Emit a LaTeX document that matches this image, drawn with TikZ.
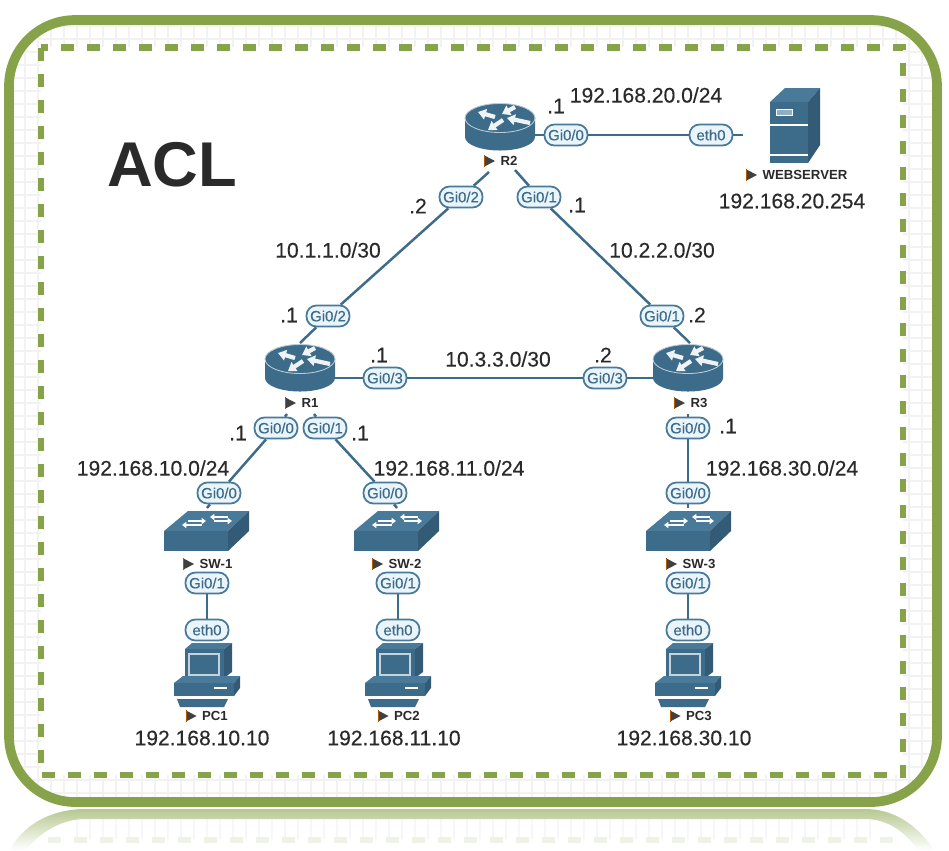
\documentclass[tikz,border=0pt]{standalone}
\usepackage{fontspec}
\setmainfont{Liberation Sans}
\newfontfamily\netfont[FakeBold=0.25]{Liberation Sans}
\usetikzlibrary{shapes,arrows.meta}
\definecolor{framegreen}{HTML}{87A349}
\definecolor{netblue}{HTML}{3D6B8A}
\definecolor{nettop}{HTML}{4A7A9A}
\definecolor{portfill}{HTML}{EAF4FB}
\definecolor{textdark}{HTML}{2A2A2A}
\tikzset{
  netwire/.style={draw=netblue, line width=1.4pt},
  netport/.style={draw=nettop, fill=portfill, rounded corners=5.6pt, line width=1pt, minimum width=0.86cm, minimum height=0.42cm, inner sep=0pt, text=netblue, font=\netfont\fontsize{8.5}{10}\selectfont},
  netdevice/.style={inner sep=0pt, minimum width=#1},
  netlabel/.style={inner sep=0pt, text=textdark, font=\netfont\fontsize{12}{14}\selectfont},
  netname/.style={inner sep=0pt, text=textdark, font=\bfseries\fontsize{7.5}{9}\selectfont},
  gridline/.style={draw=black!5, line width=0.6pt},
  routerarrow/.style={draw=white!92!netblue, line width=2.4pt, -{Triangle[length=4.5pt,width=6pt]}}
}
\newcommand{\netrouter}[2] {\node at (#1) (#2) [netdevice=1.4cm, minimum height=0.9cm] {};
  \begin{scope}[shift={(#1)}]
  \fill [netblue] (-35,-10) -- (-35,9) arc[start angle=180, end angle=360, x radius=35, y radius=-13.5] -- (35,-10) -- cycle;
  \draw [fill=netblue, draw=white!65!netblue, line width=0.5pt] (0,-10) ellipse [x radius=35, y radius=14.5];
  \draw [routerarrow] (-5,-11) -- (-22,-16);
  \draw [routerarrow] (3,-8) -- (-12,2);
  \draw [routerarrow] (15,-21) -- (2,-14);
  \draw [routerarrow] (30,-5) -- (7,-10);
  \end{scope}}
\newcommand{\netswitch}[2] {\node at (#1) (#2) [netdevice=1.7cm, minimum height=0.8cm] {};
  \begin{scope}[shift={(#1)}]
  \fill [nettop] (-42,1) -- (-18,-19) -- (43,-19) -- (22,1) -- cycle;
  \fill [netblue] (-42,1) rectangle (22,21);
  \fill [netblue!85!black] (22,1) -- (43,-19) -- (43,1) -- (22,21) -- cycle;
  \draw [white, line width=1.1pt, -{Triangle[length=2.5pt,width=3.5pt]}] (-18,-9) -- (0,-9);
  \draw [white, line width=1.1pt, -{Triangle[length=2.5pt,width=3.5pt]}] (22,-13) -- (4,-13);
  \draw [white, line width=1.1pt, -{Triangle[length=2.5pt,width=3.5pt]}] (-4,-5) -- (-24,-5);
  \draw [white, line width=1.1pt, -{Triangle[length=2.5pt,width=3.5pt]}] (8,-9) -- (26,-9);
  \end{scope}}
\newcommand{\netpc}[2] {\node at (#1) (#2) [netdevice=1.3cm, minimum height=1.1cm] {};
  \begin{scope}[shift={(#1)}]
  \fill [nettop] (-22,-26) -- (-15,-32) -- (25,-32) -- (17,-26) -- cycle;
  \fill [netblue!85!black] (17,-26) -- (25,-32) -- (25,-3) -- (17,3) -- cycle;
  \fill [netblue] (-22,-26) rectangle (17,3);
  \draw [fill=netblue, draw=white!70!netblue, line width=0.7pt] (-18,-21) rectangle (12,0);
  \fill [nettop] (-33,8) -- (-24,1) -- (33,1) -- (27,8) -- cycle;
  \fill [netblue] (-33,8) rectangle (27,21);
  \fill [netblue!85!black] (27,8) -- (33,1) -- (33,13) -- (27,21) -- cycle;
  \fill [white] (7,12) rectangle (20,14);
  \fill [netblue] (-30,24) -- (21,24) -- (17,32) -- (-27,32) -- cycle;
  \end{scope}}
\newcommand{\netserver}[2] {\node at (#1) (#2) [netdevice=1cm, minimum height=1.5cm] {};
  \begin{scope}[shift={(#1)}]
  \fill [nettop] (-25,-23) -- (-10,-37) -- (25,-37) -- (13,-23) -- cycle;
  \fill [netblue!85!black] (13,-23) -- (25,-37) -- (25,20) -- (13,38) -- cycle;
  \fill [netblue] (-25,-23) rectangle (13,38);
  \draw [white, line width=0.6pt] (-25,0) -- (13,0) (-25,30) -- (13,30);
  \draw [white, fill=nettop!60, line width=0.5pt] (-19,-16) rectangle (-3,-10);
  \end{scope}}
\newcommand{\netport}[3] {\node at (#1) (#2) [netport] {#3};}
\newcommand{\nettag}[3] {\node at (#1) (#2) [netname] {#3};
  \fill [black!75] ([shift={(-9pt,-0.11cm)}]#2.west) -- ++(6pt,0.11cm) -- ++(-6pt,0.11cm) -- cycle;
  \draw [orange!70!black, line width=0.4pt] ([shift={(-9pt,-0.12cm)}]#2.west) -- ([shift={(-9pt,0.12cm)}]#2.west);}
\newcommand{\nettext}[2] {\node at (#1) [netlabel] {#2};}

\begin{document}
\begin{tikzpicture}[x=0.02cm, y=-0.02cm]
\useasboundingbox (0,0) rectangle (949,850);

% background grid
\begin{scope}
\clip [rounded corners=1.32cm] (9,20) rectangle (937,802);
\foreach \gx in {-1,12,...,949} {\draw [gridline] (\gx,0) -- (\gx,850);}
\foreach \gy in {0,13,...,850} {\draw [gridline] (0,\gy) -- (949,\gy);}
\end{scope}
\fill [white] (41,47) rectangle (903,775);

% faint grid under the frame
\begin{scope}
\clip (70,810) rectangle (880,838);
\foreach \gx in {-1,12,...,949} {\draw [draw=black!3, line width=0.6pt] (\gx,800) -- (\gx,850);}
\end{scope}

% frame and its reflection
\draw [framegreen, line width=5.5pt, rounded corners=1.32cm] (9,20) rectangle (937,802);
\draw [framegreen, line width=3.6pt, dash pattern=on 7.4pt off 7.4pt] (41,47.5) rectangle (903,775);
\shade [top color=framegreen!60, bottom color=white] (10,850) .. controls (22,826) and (50,809) .. (85,809) -- (865,809) .. controls (895,809) and (918,826) .. (934,850) -- (918,850) .. controls (905,832) and (888,819) .. (865,819) -- (85,819) .. controls (62,819) and (40,832) .. (26,850) -- cycle;
\draw [framegreen!13, line width=3pt, dash pattern=on 7.4pt off 7.4pt] (48,840) -- (900,840);

\node at (172,165) (title) [inner sep=0pt, text=textdark, font=\bfseries\fontsize{36}{40}\selectfont] {ACL};

\netrouter {500,128} {R2};
\netrouter {300,369} {R1};
\netrouter {688,369} {R3};
\netswitch {206,530} {SW1};
\netswitch {396,530} {SW2};
\netswitch {688,530} {SW3};
\netpc {207,675} {PC1};
\netpc {398,675} {PC2};
\netpc {688,675} {PC3};
\netserver {795,125} {WEB};

\nettag {509,161} {R2tag} {R2};
\nettag {310,403} {R1tag} {R1};
\nettag {699,403} {R3tag} {R3};
\nettag {216,564} {SW1tag} {SW-1};
\nettag {405,564} {SW2tag} {SW-2};
\nettag {699,564} {SW3tag} {SW-3};
\nettag {215,716} {PC1tag} {PC1};
\nettag {407,716} {PC2tag} {PC2};
\nettag {699,716} {PC3tag} {PC3};
\nettag {805,175} {WEBtag} {WEBSERVER};

\netport {566,135} {R2g0} {Gi0/0};
\netport {539,197} {R2g1} {Gi0/1};
\netport {461,197} {R2g2} {Gi0/2};
\netport {711,135} {WEBe0} {eth0};
\netport {328,316} {R1g2} {Gi0/2};
\netport {385,378} {R1g3} {Gi0/3};
\netport {276,428} {R1g0} {Gi0/0};
\netport {325,428} {R1g1} {Gi0/1};
\netport {662,316} {R3g1} {Gi0/1};
\netport {605,378} {R3g3} {Gi0/3};
\netport {688,428} {R3g0} {Gi0/0};
\netport {219,493} {SW1g0} {Gi0/0};
\netport {207,583} {SW1g1} {Gi0/1};
\netport {385,493} {SW2g0} {Gi0/0};
\netport {398,583} {SW2g1} {Gi0/1};
\netport {688,493} {SW3g0} {Gi0/0};
\netport {688,583} {SW3g1} {Gi0/1};
\netport {207,630} {PC1e0} {eth0};
\netport {398,630} {PC2e0} {eth0};
\netport {688,630} {PC3e0} {eth0};

\coordinate (R2a) at (535,135);
\coordinate (R2b) at (515,170);
\coordinate (R2c) at (489,172);
\coordinate (WEBa) at (743,135);
\coordinate (R1a) at (300,343);
\coordinate (R1b) at (335,378);
\coordinate (R1c) at (287,414);
\coordinate (R1d) at (314,414);
\coordinate (R3a) at (690,343);
\coordinate (R3b) at (653,378);
\coordinate (R3c) at (688,414);
\coordinate (SW1a) at (207,508);
\coordinate (SW2a) at (397,508);
\coordinate (SW3a) at (688,508);

\draw [netwire] (R2a) -- (R2g0) -- (WEBe0) -- (WEBa);
\draw [netwire] (R2c) -- (R2g2) -- (R1g2) -- (R1a);
\draw [netwire] (R2b) -- (R2g1) -- (R3g1) -- (R3a);
\draw [netwire] (R1b) -- (R1g3) -- (R3g3) -- (R3b);
\draw [netwire] (R1c) -- (R1g0) -- (SW1g0) -- (SW1a);
\draw [netwire] (R1d) -- (R1g1) -- (SW2g0) -- (SW2a);
\draw [netwire] (R3c) -- (R3g0) -- (SW3g0) -- (SW3a);
\draw [netwire] (SW1g1) -- (PC1e0);
\draw [netwire] (SW2g1) -- (PC2e0);
\draw [netwire] (SW3g1) -- (PC3e0);

\nettext {556,106} {.1}
\nettext {646,95} {192.168.20.0/24}
\nettext {792,201} {192.168.20.254}
\nettext {418,206} {.2}
\nettext {577,205} {.1}
\nettext {328,250} {10.1.1.0/30}
\nettext {662,250} {10.2.2.0/30}
\nettext {289,315} {.1}
\nettext {697,315} {.2}
\nettext {379,355} {.1}
\nettext {498,359} {10.3.3.0/30}
\nettext {603,355} {.2}
\nettext {238,433} {.1}
\nettext {360,433} {.1}
\nettext {728,426} {.1}
\nettext {153,468} {192.168.10.0/24}
\nettext {449,468} {192.168.11.0/24}
\nettext {782,468} {192.168.30.0/24}
\nettext {202,738} {192.168.10.10}
\nettext {394,738} {192.168.11.10}
\nettext {684,738} {192.168.30.10}
\end{tikzpicture}
\end{document}
